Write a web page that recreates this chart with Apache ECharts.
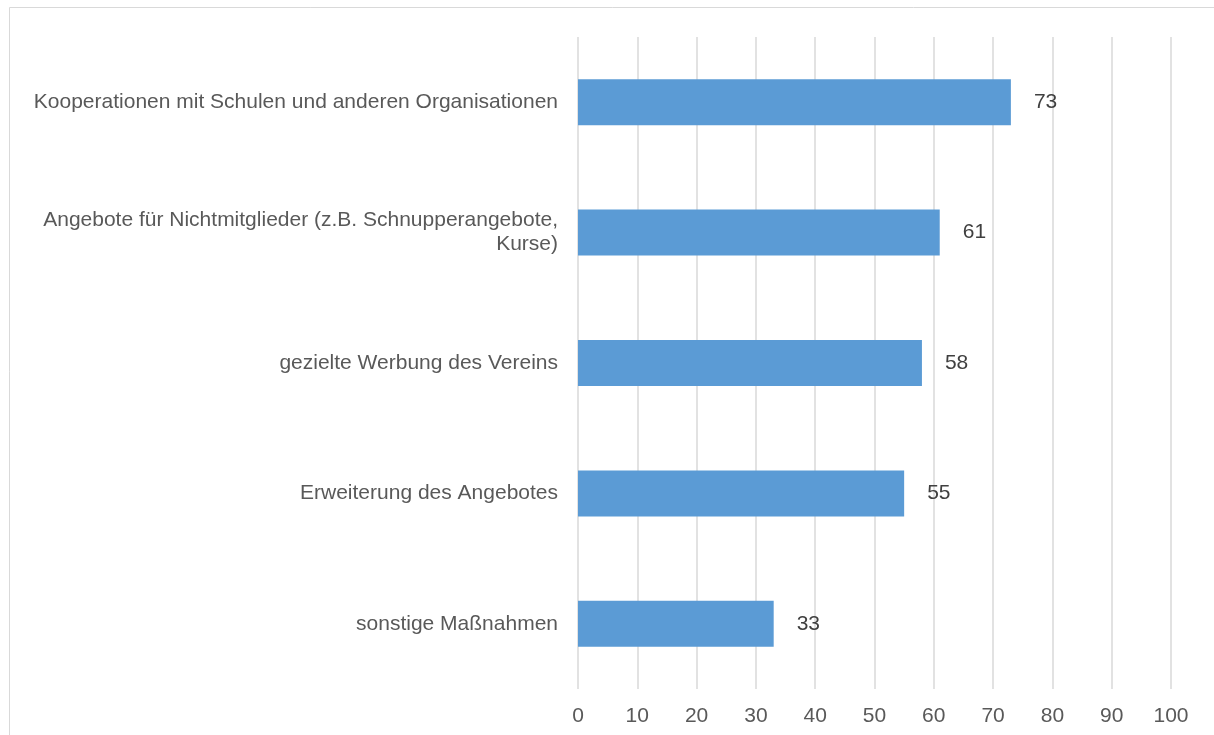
<!DOCTYPE html>
<html><head><meta charset="utf-8">
<script src="https://cdn.jsdelivr.net/npm/echarts@6/dist/echarts.min.js"></script>
<style>html,body{margin:0;padding:0;background:#fff}#c{width:1214px;height:735px}</style>
</head><body><div id="c"></div>
<script>
const categories = [
  'Kooperationen mit Schulen und anderen Organisationen',
  'Angebote für Nichtmitglieder (z.B. Schnupperangebote,\nKurse)',
  'gezielte Werbung des Vereins',
  'Erweiterung des Angebotes',
  'sonstige Maßnahmen'
];
const values = [73, 61, 58, 55, 33];
const xTicks = [0, 10, 20, 30, 40, 50, 60, 70, 80, 90, 100];

const FONT = 'Liberation Sans, Arial, sans-serif';
const chart = echarts.init(document.getElementById('c'), null, {renderer: 'canvas'});
chart.setOption({
  animation: false,
  backgroundColor: '#fff',
  textStyle: {fontFamily: FONT},
  graphic: [{
    type: 'rect', shape: {x: 9.5, y: 7.5, width: 1300, height: 800},
    style: {fill: 'none', stroke: '#d9d9d9', lineWidth: 1}, silent: true
  }],
  grid: {left: 578, right: 43, top: 37, bottom: 46, containLabel: false},
  xAxis: {
    type: 'value', min: xTicks[0], max: xTicks[xTicks.length - 1], interval: 10,
    axisLine: {show: false}, axisTick: {show: false},
    splitLine: {show: true, lineStyle: {color: '#d9d9d9', width: 1.5}},
    axisLabel: {color: '#595959', fontSize: 21, margin: 17, fontFamily: FONT}
  },
  yAxis: {
    type: 'category', data: categories, inverse: true,
    axisLine: {show: false}, axisTick: {show: false},
    axisLabel: {color: '#595959', fontSize: 21, margin: 20, lineHeight: 24, align: 'right', fontFamily: FONT}
  },
  series: [{
    type: 'bar', data: values, barWidth: 46,
    itemStyle: {color: '#5b9bd5'},
    label: {show: true, position: 'right', distance: 23, color: '#404040', fontSize: 21, fontFamily: FONT}
  }]
});
</script></body></html>
